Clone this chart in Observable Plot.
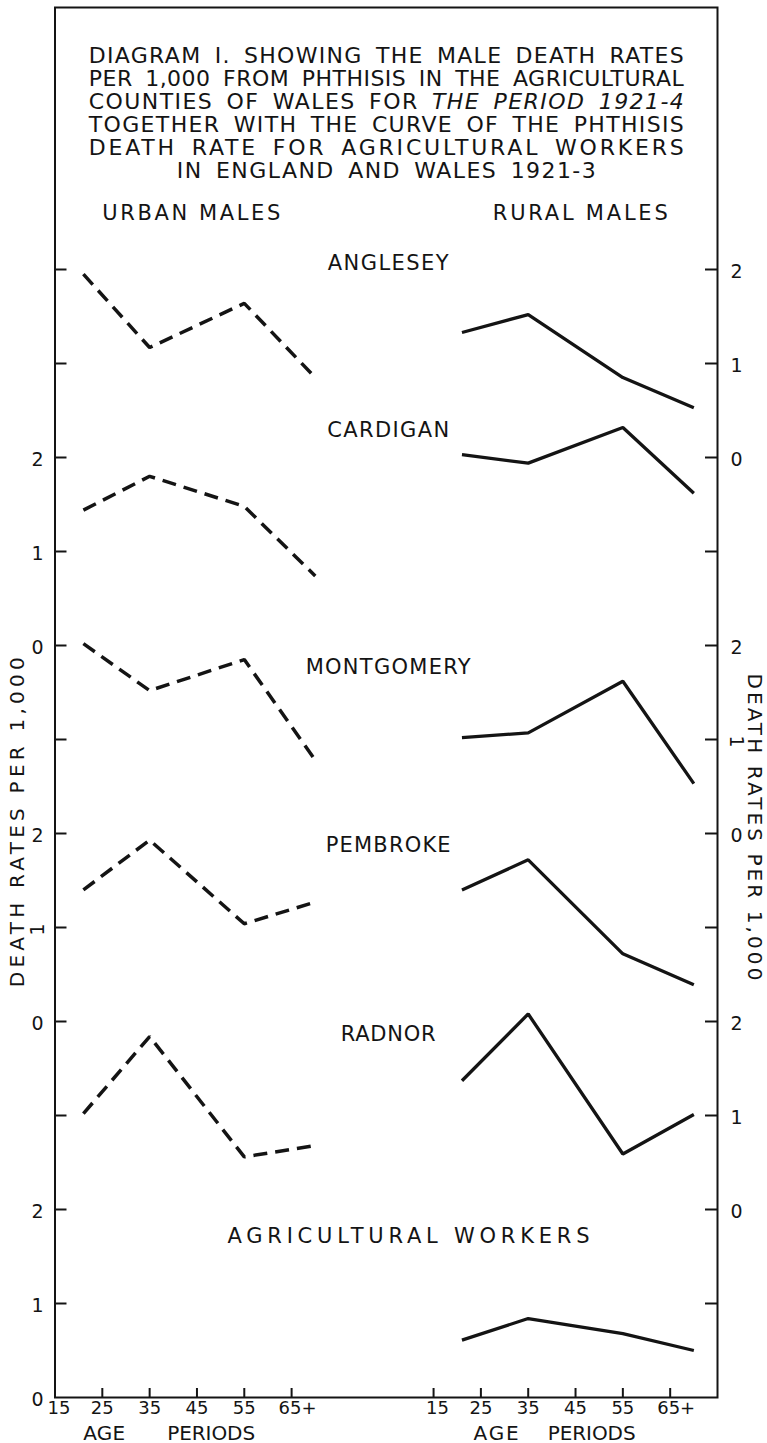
<!DOCTYPE html>
<html>
<head>
<meta charset="utf-8">
<script src="https://cdn.jsdelivr.net/npm/d3@7"></script>
<script src="https://cdn.jsdelivr.net/npm/@observablehq/plot@0.6"></script>
<style>
  html, body { margin: 0; padding: 0; background: #ffffff; }
  #chart svg text { white-space: pre; }
</style>
</head>
<body>
<div id="chart"></div>
<script>
// ---------------- DATA ----------------
// plotted age position of each age group (15-25, 25-45, 45-65, 65+)
const ages = [21, 35, 55, 70];
const counties = ["ANGLESEY", "CARDIGAN", "MONTGOMERY", "PEMBROKE", "RADNOR"];
// zero line of each county's scale, in diagram units (1 unit = 1 death per 1,000)
const countyBase = [10, 8, 6, 4, 2];

// male death rates per 1,000 from phthisis, 1921-4
const urbanAnglesey   = [1.95, 1.17, 1.64, 0.85];
const urbanCardigan   = [1.44, 1.80, 1.48, 0.74];
const urbanMontgomery = [2.02, 1.52, 1.85, 0.78];
const urbanPembroke   = [1.40, 1.93, 1.04, 1.27];
const urbanRadnor     = [1.02, 1.84, 0.56, 0.68];

const ruralAnglesey   = [1.33, 1.52, 0.85, 0.53];
const ruralCardigan   = [2.03, 1.94, 2.32, 1.62];
const ruralMontgomery = [1.02, 1.07, 1.62, 0.53];
const ruralPembroke   = [1.40, 1.72, 0.72, 0.39];
const ruralRadnor     = [1.37, 2.08, 0.59, 1.01];

// agricultural workers, England and Wales 1921-3
const agriculturalLabel = "AGRICULTURAL WORKERS";
const agriculturalWorkers = [0.61, 0.84, 0.68, 0.50];
const agriculturalBase = 0;

// axes
const ageTicks = [15, 25, 35, 45, 55, 65];
const ageTickLabels = ["15", "25", "35", "45", "55", "65+"];
const scaleValues = [0, 1, 2];
const leftScaleBases = [0, 4, 8];
const rightScaleBases = [2, 6, 10];
const unitTicks = [1, 2, 3, 4, 5, 6, 7, 8, 9, 10, 11, 12];

const titleLines = [
  "DIAGRAM I. SHOWING THE MALE DEATH RATES",
  "PER 1,000 FROM PHTHISIS IN THE AGRICULTURAL",
  "COUNTIES OF WALES FOR THE PERIOD 1921-4",
  "TOGETHER WITH THE CURVE OF THE PHTHISIS",
  "DEATH RATE FOR AGRICULTURAL WORKERS",
  "IN ENGLAND AND WALES 1921-3"
];
const panelTitles = ["URBAN MALES", "RURAL MALES"];
const axisTitle = "DEATH RATES PER 1,000";
const xAxisWords = ["AGE", "PERIODS"];

// ---------------- LAYOUT ----------------
const W = 767, H = 1443;
const mL = 54.5, mR = 50, mT = 7, mB = 46;
const ruralShift = 80;               // the rural panel sits 80 age-years to the right
const xMin = 15, xMax = 155;
const pxPerYear = (W - mL - mR) / (xMax - xMin);
const pxPerUnit = 94;
const yMax = (H - mT - mB) / pxPerUnit;
const ink = "#141414";
const font = "DejaVu Sans";

const countyLabelY = [12.07, 10.29, 7.77, 5.87, 3.86];
const countyLabelX = 85.4;
const agriculturalLabelY = 1.72;
const agriculturalLabelX = 89.7;

// ---------------- TABLES ----------------
function rowsFor(values, county, panel, base) {
  return values.map((v, i) => ({
    county, panel, age: ages[i], rate: v,
    pos: ages[i] + (panel === "rural" ? ruralShift : 0),
    u: base + v
  }));
}
const urbanSeries = [urbanAnglesey, urbanCardigan, urbanMontgomery, urbanPembroke, urbanRadnor];
const ruralSeries = [ruralAnglesey, ruralCardigan, ruralMontgomery, ruralPembroke, ruralRadnor];
const urbanRows = urbanSeries.flatMap((s, i) => rowsFor(s, counties[i], "urban", countyBase[i]));
const ruralRows = ruralSeries.flatMap((s, i) => rowsFor(s, counties[i], "rural", countyBase[i]))
  .concat(rowsFor(agriculturalWorkers, agriculturalLabel, "rural", agriculturalBase));

const leftLabels = leftScaleBases.flatMap(b => scaleValues.map(v => ({u: b + v, text: String(v)})));
const rightLabels = rightScaleBases.flatMap(b => scaleValues.map(v => ({u: b + v, text: String(v)})));

const xTickPos = ageTicks.filter(a => a > xMin).concat(ageTicks.map(a => a + ruralShift));
const xLabelRows = [0, ruralShift].flatMap(shift =>
  ageTicks.map((a, i) => ({pos: a + shift, text: ageTickLabels[i]})));

const countyLabelRows = counties.map((c, i) => ({name: c, y: countyLabelY[i], x: countyLabelX}))
  .concat([{name: agriculturalLabel, y: agriculturalLabelY, x: agriculturalLabelX}]);

const T = {fill: ink, fontFamily: font, textAnchor: "middle", lineAnchor: "middle"};
const midLabels = ["25", "35", "45", "55"];

const chart = Plot.plot({
  width: W, height: H,
  marginLeft: mL, marginRight: mR, marginTop: mT, marginBottom: mB,
  x: {domain: [xMin, xMax], axis: null},
  y: {domain: [0, yMax], axis: null},
  style: {fontFamily: font, background: "#ffffff", color: ink, overflow: "visible"},
  marks: [
    Plot.frame({stroke: ink, strokeWidth: 2}),
    // inward ticks
    Plot.ruleY(unitTicks, {y: d => d, x1: xMin, x2: xMin + 12 / pxPerYear, stroke: ink, strokeWidth: 2}),
    Plot.ruleY(unitTicks, {y: d => d, x1: xMax - 12 / pxPerYear, x2: xMax, stroke: ink, strokeWidth: 2}),
    Plot.ruleX(xTickPos, {x: d => d, y1: 0, y2: 9 / pxPerUnit, stroke: ink, strokeWidth: 2}),
    // curves
    Plot.line(urbanRows, {x: "pos", y: "u", z: "county", stroke: ink, strokeWidth: 3.5,
      strokeDasharray: "14,8", strokeLinecap: "butt", strokeLinejoin: "miter"}),
    Plot.line(ruralRows, {x: "pos", y: "u", z: "county", stroke: ink, strokeWidth: 3.3,
      strokeLinecap: "butt", strokeLinejoin: "miter"}),
    // scale labels
    Plot.text(leftLabels, {...T, frameAnchor: "left", y: "u", text: "text", dx: -17.5, dy: 2,
      fontSize: 19, rotate: d => (d.u === 5 ? -90 : 0)}),
    Plot.text(rightLabels, {...T, frameAnchor: "right", y: "u", text: "text", dx: 19, dy: 2,
      fontSize: 19, rotate: d => (d.u === 7 ? 90 : 0)}),
    Plot.text(xLabelRows.filter(d => midLabels.includes(d.text)), {...T, x: "pos", frameAnchor: "bottom",
      text: "text", dy: 11, fontSize: 18}),
    Plot.text(xLabelRows.filter(d => d.text === "15"), {...T, x: "pos", frameAnchor: "bottom",
      text: "text", dy: 11, dx: 4, fontSize: 18}),
    Plot.text(xLabelRows.filter(d => d.text === "65+"), {...T, x: "pos", frameAnchor: "bottom",
      text: "text", dy: 11, dx: 6, fontSize: 18}),
    Plot.text([xAxisWords[0], xAxisWords[1], xAxisWords[0], xAxisWords[1]],
      {...T, x: [25.4, 48.0, 108.2, 128.4], frameAnchor: "bottom", text: d => d, dy: 36, fontSize: 20}),
    // rotated axis titles
    Plot.text([axisTitle], {...T, frameAnchor: "left", y: 6.12, text: d => d, dx: -37.5,
      rotate: -90, fontSize: 20}),
    Plot.text([axisTitle], {...T, frameAnchor: "right", y: 6.07, text: d => d, dx: 37,
      rotate: 90, fontSize: 20}),
    // county labels
    Plot.text(countyLabelRows, {...T, x: "x", y: "y", text: "name", fontSize: 21}),
    // panel titles
    Plot.text(panelTitles, {...T, x: [43.8, 126], frameAnchor: "top", text: d => d, dy: 206, fontSize: 21}),
    // diagram title
    ...titleLines.map((line, i) => Plot.text([line], {...T, frameAnchor: "top", text: d => d,
      dy: 48 + 23 * i, fontSize: 22}))
  ]
});

// ---------------- lettering widths (spacing of the hand lettering) ----------------
const widths = new Map([
  [titleLines[0], [595]], [titleLines[1], [595]], [titleLines[2], [595]],
  [titleLines[3], [595]], [titleLines[4], [595]], [titleLines[5], [419]],
  ["URBAN MALES", [178]], ["RURAL MALES", [175]],
  ["ANGLESEY", [121]], ["CARDIGAN", [122]], ["MONTGOMERY", [165]],
  ["PEMBROKE", [125]], ["RADNOR", [95]], [agriculturalLabel, [362]],
  [axisTitle, [330, 307]],
  ["PERIODS", [88, 88]], ["AGE", [42, 45]]
]);
chart.querySelectorAll("text").forEach(t => {
  const key = t.textContent;
  const list = widths.get(key);
  if (list && list.length) {
    t.setAttribute("textLength", list.shift());
    t.setAttribute("lengthAdjust", "spacing");
  }
  if (titleLines.includes(key)) t.style.wordSpacing = "5px";
  if (key === titleLines[2]) {
    const NS = "http://www.w3.org/2000/svg";
    const split = "COUNTIES OF WALES FOR ";
    t.textContent = split;
    const it = document.createElementNS(NS, "tspan");
    it.setAttribute("font-style", "italic");
    it.textContent = key.slice(split.length);
    t.appendChild(it);
  }
});

document.getElementById("chart").appendChild(chart);
</script>
</body>
</html>
